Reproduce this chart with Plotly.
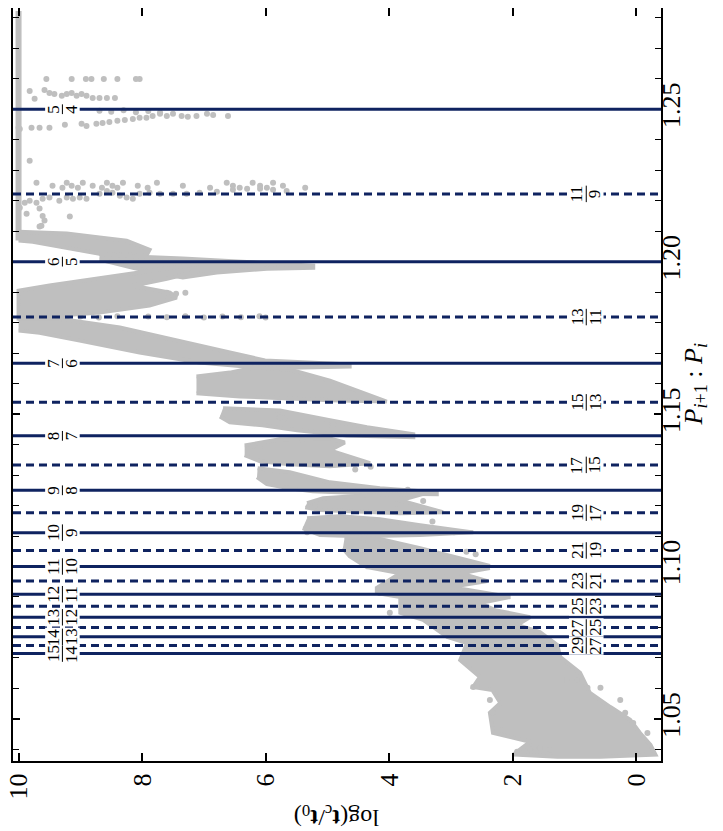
import plotly.graph_objects as go

# ---------------- data ----------------
# resonances: first order (solid lines) and second order (dashed lines)
first_num = [5, 6, 7, 8, 9, 10, 11, 12, 13, 14, 15]
first_den = [4, 5, 6, 7, 8, 9, 10, 11, 12, 13, 14]
second_num = [11, 13, 15, 17, 19, 21, 23, 25, 27, 29]
second_den = [9, 11, 13, 15, 17, 19, 21, 23, 25, 27]

x_ticks = [0, 2, 4, 6, 8, 10]

# column of systems that reached the maximum log(t_c/t_0) = 10
cap_logt = [10.0, 10.0]
cap_ratio = [1.2822, 1.2069]

# outlines of the dense clouds of simulated systems (log t, ratio)
bandA_logt = [10.0, 9.22, 8.69, 8.25, 7.88, 7.93, 8.69, 9.22, 9.77, 10.0]
bandA_ratio = [1.2098, 1.2092, 1.2079, 1.2069, 1.2039, 1.2020, 1.2026, 1.2046, 1.2065, 1.2069]

bandB_logt = [8.69, 8.04, 7.34, 6.53, 5.72, 5.23, 5.23, 5.98, 6.79, 7.34, 7.71, 8.15, 8.69]
bandB_ratio = [1.2026, 1.2016, 1.2010, 1.2000, 1.1993, 1.1987, 1.1980, 1.1977, 1.1964, 1.1948, 1.1961, 1.1980, 1.2007]

bandC_logt = [7.07, 7.88, 8.41, 8.96, 9.50, 10.0, 10.0, 8.69, 7.88, 7.44, 7.55, 8.15, 7.60, 7.07]
bandC_ratio = [1.1993, 1.1970, 1.1954, 1.1938, 1.1922, 1.1905, 1.1813, 1.1833, 1.1856, 1.1882, 1.1898, 1.1921, 1.1944, 1.1970]

bandD_logt = [10.0, 9.34, 8.36, 7.39, 6.58, 6.01, 4.64, 4.64, 6.01, 7.07, 8.04, 9.01, 9.66, 10.0]
bandD_ratio = [1.1813, 1.1813, 1.1784, 1.1741, 1.1702, 1.1676, 1.1663, 1.1656, 1.1650, 1.1669, 1.1702, 1.1741, 1.1767, 1.1774]

bandE_logt = [7.12, 6.58, 6.18, 5.61, 4.96, 4.04, 4.96, 5.77, 6.42, 7.12]
bandE_ratio = [1.1623, 1.1636, 1.1653, 1.1646, 1.1610, 1.1541, 1.1545, 1.1551, 1.1558, 1.1568]

bandF_logt = [6.69, 5.77, 4.96, 4.36, 3.61, 3.61, 4.68, 5.49, 6.05, 6.58, 6.74]
bandF_ratio = [1.1519, 1.1512, 1.1480, 1.1457, 1.1434, 1.1424, 1.1430, 1.1447, 1.1463, 1.1473, 1.1492]

bandG_logt = [6.34, 5.77, 4.96, 4.72, 4.96, 4.31, 4.96, 5.61, 6.09, 6.34]
bandG_ratio = [1.1397, 1.1417, 1.1420, 1.1407, 1.1381, 1.1339, 1.1329, 1.1335, 1.1345, 1.1365]

bandH_logt = [6.13, 5.61, 4.96, 4.15, 3.23, 3.23, 4.42, 5.24, 5.61, 5.98, 6.14]
bandH_ratio = [1.1322, 1.1309, 1.1276, 1.1257, 1.1243, 1.1237, 1.1240, 1.1247, 1.1257, 1.1270, 1.1293]

bandI_logt = [5.33, 5.07, 4.31, 3.42, 3.82, 3.13, 3.82, 4.47, 5.12, 5.36]
bandI_ratio = [1.1208, 1.1224, 1.1234, 1.1240, 1.1217, 1.1178, 1.1175, 1.1181, 1.1185, 1.1194]

bandJ_logt = [5.33, 4.80, 4.15, 3.50, 2.64, 3.50, 4.47, 5.12, 5.40]
bandJ_ratio = [1.1158, 1.1165, 1.1155, 1.1135, 1.1112, 1.1103, 1.1099, 1.1103, 1.1126]

bandK_logt = [4.72, 4.15, 3.50, 2.85, 2.37, 3.18, 3.82, 4.36, 4.64, 4.75]
bandK_ratio = [1.1096, 1.1090, 1.1060, 1.1028, 1.1002, 1.0998, 1.1008, 1.0998, 1.1034, 1.1060]

bandL_logt = [2.37, 2.85, 2.41, 3.01, 2.04, 2.53, 2.29, 1.72, 1.93, 1.56, 1.28, 1.23, 0.91, 0.75,
              0.42, 0.10, -0.06, -0.23, -0.31, 0.58, 1.28, 1.99, 1.72, 2.32, 2.37, 2.20, 2.33, 2.64,
              2.53, 2.85, 2.74, 3.06, 3.29, 3.45, 3.82, 3.82, 4.20, 4.20, 3.82, 4.36]
bandL_ratio = [1.0995, 1.0978, 1.0952, 1.0933, 1.0900, 1.0880, 1.0857, 1.0834, 1.0808, 1.0785, 1.0743,
               1.0703, 1.0651, 1.0585, 1.0539, 1.0497, 1.0454, 1.0415, 1.0383, 1.0376, 1.0376, 1.0383,
               1.0425, 1.0454, 1.0520, 1.0552, 1.0595, 1.0605, 1.0638, 1.0693, 1.0749, 1.0769, 1.0802,
               1.0825, 1.0848, 1.0900, 1.0913, 1.0930, 1.0978, 1.0998]

# sparse individual systems
pts_logt = [9.55, 9.14, 8.91, 8.82, 8.62, 8.40, 8.10, 8.04,
            9.82, 9.74, 9.58, 9.50, 9.42, 9.30, 9.22, 9.14, 9.06, 8.98, 8.90, 8.80, 8.69, 8.57, 8.44,
            10.0, 9.98, 9.79, 9.66, 9.50, 9.25, 8.98, 8.90, 8.74, 8.64, 8.53, 8.40, 8.28, 8.15, 8.04,
            7.93, 7.83, 7.71, 7.60, 7.50, 7.36, 7.26, 7.12, 6.95, 6.85, 6.61,
            8.69, 8.50, 8.30, 8.10, 7.90, 7.71,
            9.71, 9.45, 9.29, 9.22, 9.14, 9.04, 8.96, 8.80, 8.65, 8.57, 8.48, 8.40, 8.31, 8.07, 7.91,
            7.76, 7.34, 6.90, 6.63, 6.53, 6.42, 6.21, 6.09, 5.98, 5.88, 5.72, 5.36,
            9.90, 9.82, 9.71, 9.61, 9.50, 9.34, 9.22, 9.12, 9.01, 8.90, 8.69, 8.57, 8.48, 8.36, 8.25,
            8.15, 8.04, 7.88, 7.71, 7.50, 7.28, 7.07, 6.79, 6.53, 6.30, 6.09, 5.88, 5.66,
            9.98, 9.87, 9.66, 9.58, 9.66, 9.17, 9.82, 9.61,
            9.6, 9.3, 9.0, 8.7, 8.4, 7.9, 7.6, 7.3, 7.0, 6.7, 6.4, 6.1, 6.0,
            2.64, 2.58, 2.37, 2.33, 2.20, 1.93, 1.72, 1.56, 1.39, 1.12, 0.96, 0.79, 0.58, 0.26, 0.18,
            0.05, -0.18,
            7.6, 7.45, 7.3, 9.63, 5.77, 5.69, 5.2, 5.33, 5.41, 2.95, 3.99, 4.15, 6.2, 6.0, 5.0, 4.9,
            4.55, 4.3, 3.7, 3.45, 3.9, 3.3, 2.75, 2.6, 4.4, 4.1, 3.35, 3.1]
pts_ratio = [1.2599, 1.2599, 1.2599, 1.2599, 1.2599, 1.2599, 1.2599, 1.2599,
             1.2560, 1.2534, 1.2563, 1.2553, 1.2550, 1.2544, 1.2550, 1.2553, 1.2544, 1.2550, 1.2544,
             1.2537, 1.2537, 1.2537, 1.2537,
             1.2439, 1.2435, 1.2439, 1.2439, 1.2439, 1.2449, 1.2452, 1.2445, 1.2452, 1.2455, 1.2458,
             1.2462, 1.2465, 1.2468, 1.2472, 1.2472, 1.2478, 1.2485, 1.2478, 1.2485, 1.2478, 1.2475,
             1.2478, 1.2485, 1.2481, 1.2478,
             1.2495, 1.2492, 1.2497, 1.2490, 1.2494, 1.2489,
             1.2259, 1.2249, 1.2242, 1.2259, 1.2249, 1.2242, 1.2259, 1.2249, 1.2242, 1.2259, 1.2249,
             1.2242, 1.2259, 1.2249, 1.2242, 1.2259, 1.2249, 1.2242, 1.2259, 1.2249, 1.2242, 1.2259,
             1.2249, 1.2242, 1.2259, 1.2249, 1.2242,
             1.2193, 1.2200, 1.2193, 1.2206, 1.2210, 1.2200, 1.2210, 1.2206, 1.2210, 1.2206, 1.2223,
             1.2232, 1.2226, 1.2216, 1.2210, 1.2206, 1.2223, 1.2226, 1.2223, 1.2223, 1.2223, 1.2226,
             1.2229, 1.2236, 1.2239, 1.2239, 1.2236, 1.2232,
             1.2177, 1.2157, 1.2174, 1.2135, 1.2115, 1.2148, 1.2331, 1.2150,
             1.1819, 1.1816, 1.1820, 1.1817, 1.1821, 1.1820, 1.1818, 1.1821, 1.1817, 1.1820, 1.1818,
             1.1821, 1.1817,
             1.0605, 1.0608, 1.0562, 1.0520, 1.0464, 1.0392, 1.0399, 1.0405, 1.0399, 1.0628, 1.0628,
             1.0602, 1.0602, 1.0562, 1.0520, 1.0487, 1.0454,
             1.1898, 1.1895, 1.1898, 1.2118, 1.1489, 1.1486, 1.1201, 1.1112, 1.1414, 1.1112, 1.0848,
             1.0913, 1.1395, 1.1390, 1.1461, 1.1466, 1.1318, 1.1327, 1.1252, 1.1215, 1.1205, 1.1148,
             1.1048, 1.1040, 1.1070, 1.1082, 1.0990, 1.0965]

# ---------------- figure ----------------
GRAY = "#bfbfbf"
NAVY = "#0f2360"
FONT = "Liberation Serif"

fig = go.Figure()

fig.add_trace(go.Scatter(x=cap_logt, y=cap_ratio, mode="lines",
                         line=dict(color=GRAY, width=6), hoverinfo="skip"))

bands = [(bandA_logt, bandA_ratio), (bandB_logt, bandB_ratio), (bandC_logt, bandC_ratio),
         (bandD_logt, bandD_ratio), (bandE_logt, bandE_ratio), (bandF_logt, bandF_ratio),
         (bandG_logt, bandG_ratio), (bandH_logt, bandH_ratio), (bandI_logt, bandI_ratio),
         (bandJ_logt, bandJ_ratio), (bandK_logt, bandK_ratio), (bandL_logt, bandL_ratio)]
for bx, by in bands:
    fig.add_trace(go.Scatter(x=bx, y=by, mode="lines", fill="toself", fillcolor=GRAY,
                             line=dict(color=GRAY, width=4), hoverinfo="skip"))

fig.add_trace(go.Scatter(x=pts_logt, y=pts_ratio, mode="markers",
                         marker=dict(color=GRAY, size=6), hoverinfo="skip"))

# label geometry (style, in axis units)
LEFT_X, LEFT_X0, LEFT_X1 = 9.29, 9.57, 9.01
RIGHT_X, RIGHT_X0, RIGHT_X1 = 0.81, 1.09, 0.53
BOX_H = 0.0030

line_shapes, box_shapes, bar_shapes = [], [], []
annotations = []


def add_label(n, d, xc, x0, x1):
    r = n / d
    box_shapes.append(dict(type="rect", xref="x", yref="y", x0=x0, x1=x1, y0=r - BOX_H, y1=r + BOX_H,
                           fillcolor="white", line=dict(width=0)))
    half = 0.0027 if max(n, d) >= 10 else 0.0016
    bar_shapes.append(dict(type="line", xref="x", yref="y", x0=xc, x1=xc, y0=r - half, y1=r + half,
                           line=dict(color="black", width=1)))
    for txt, shift in ((str(n), -9), (str(d), 9)):
        annotations.append(dict(x=xc, y=r, xref="x", yref="y", text=txt, xshift=shift,
                                textangle=-90, showarrow=False, xanchor="center", yanchor="middle",
                                font=dict(family=FONT, size=17, color="black")))


for n, d in zip(first_num, first_den):
    r = n / d
    line_shapes.append(dict(type="line", xref="x domain", x0=0, x1=1, yref="y", y0=r, y1=r,
                            line=dict(color=NAVY, width=3)))
    add_label(n, d, LEFT_X, LEFT_X0, LEFT_X1)
for n, d in zip(second_num, second_den):
    r = n / d
    line_shapes.append(dict(type="line", xref="x domain", x0=0, x1=1, yref="y", y0=r, y1=r,
                            line=dict(color=NAVY, width=3, dash="8px,5px")))
    add_label(n, d, RIGHT_X, RIGHT_X0, RIGHT_X1)

annotations.append(dict(x=1, y=0.5, xref="paper", yref="paper", xshift=33,
                        text="<i>P</i><sub><i>i</i>+1</sub> : <i>P</i><sub><i>i</i></sub>",
                        textangle=-90, showarrow=False, xanchor="center", yanchor="middle",
                        font=dict(family=FONT, size=26, color="black")))
annotations.append(dict(x=0.5, y=0, xref="paper", yref="paper", yshift=-55,
                        text="log(<b>t</b><sub>c</sub>/<b>t</b><sub>0</sub>)",
                        textangle=180, showarrow=False, xanchor="center", yanchor="middle",
                        font=dict(family=FONT, size=24, color="black")))

# the page body adds an 8px offset; size/margins compensate so the frame sits where the reference has it
fig.update_layout(
    width=715, height=823,
    margin=dict(l=5, r=62, t=0, b=70, autoexpand=False),
    paper_bgcolor="white", plot_bgcolor="white",
    showlegend=False,
    shapes=line_shapes + box_shapes + bar_shapes, annotations=annotations,
    font=dict(family=FONT, size=26, color="black"),
)
fig.update_xaxes(range=[10.09, -0.40], tickvals=x_ticks, ticktext=[str(v) for v in x_ticks],
                 tickangle=-90, ticks="inside", ticklen=8, tickwidth=1.5, tickcolor="black",
                 showline=True, linewidth=2, linecolor="black", mirror="allticks",
                 showgrid=False, zeroline=False, automargin=False, ticklabeloverflow="allow",
                 tickfont=dict(family=FONT, size=26, color="black"))
fig.update_yaxes(range=[1.0362, 1.2832], side="right", dtick=0.05, tick0=1.0, tickformat=".2f",
                 tickangle=-90, ticks="inside", ticklen=7, tickwidth=1.5, tickcolor="black",
                 minor=dict(dtick=0.01, tick0=1.0, ticks="inside", ticklen=6, tickwidth=1.2,
                            tickcolor="black", showgrid=False),
                 showline=True, linewidth=2, linecolor="black", mirror="allticks",
                 showgrid=False, zeroline=False, automargin=False, ticklabeloverflow="allow",
                 ticklabelstandoff=-14,
                 tickfont=dict(family=FONT, size=26, color="black"))

fig.write_html("out.html")
